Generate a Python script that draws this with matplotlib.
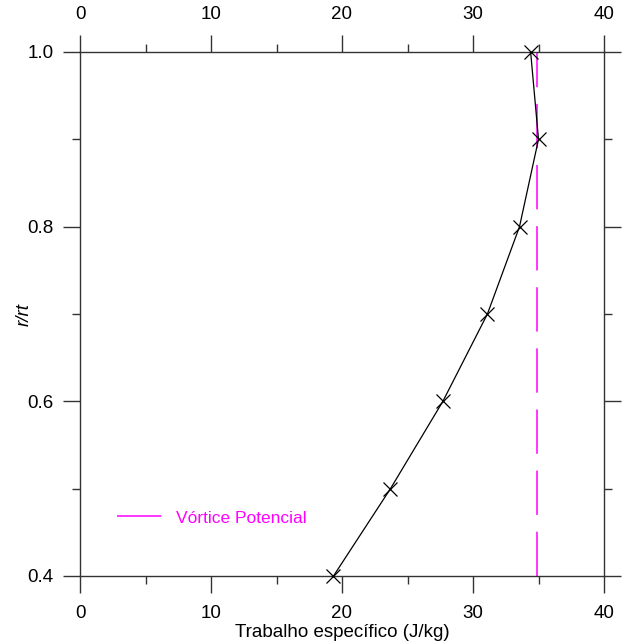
import numpy as np
import matplotlib
matplotlib.use("Agg")
import matplotlib.pyplot as plt
from matplotlib.ticker import MultipleLocator


# dados: trabalho específico por posição radial
r_rt = [0.4, 0.5, 0.6, 0.7, 0.8, 0.9, 1.0]
trabalho = [19.35, 23.7, 27.7, 31.1, 33.55, 35.0, 34.4]

# vórtice potencial: trabalho constante ao longo do raio
r_vortice = [0.4, 1.0]
trabalho_vortice = [34.85, 34.85]

plt.rcParams["font.family"] = ["Liberation Sans", "DejaVu Sans"]
plt.rcParams["font.size"] = 13.5

fig = plt.figure(figsize=(6.24, 6.44), dpi=100)
ax = fig.add_axes([80 / 624, 68 / 644, 524 / 624, 524 / 644])

ax.plot(trabalho_vortice, r_vortice, color="#ff00ff", lw=1.1,
        dashes=(29, 11), label="Vórtice Potencial")
ax.plot(trabalho, r_rt, color="black", lw=0.9, marker="x",
        markersize=9.5, markeredgewidth=0.9, clip_on=False, zorder=3)

ax.set_xlim(0, 40)
ax.set_ylim(0.4, 1.0)

ax.xaxis.set_major_locator(MultipleLocator(10))
ax.xaxis.set_minor_locator(MultipleLocator(5))
ax.yaxis.set_major_locator(MultipleLocator(0.2))
ax.yaxis.set_minor_locator(MultipleLocator(0.1))

ax.tick_params(which="both", direction="out", top=True, right=True,
               labeltop=True, labelright=False, color="#333333")
ax.tick_params(which="major", length=12.2, width=1.0, pad=7)
ax.tick_params(axis="x", which="major", pad=8.5)
ax.tick_params(which="minor", length=5.8, width=1.0)

for s in ax.spines.values():
    s.set_linewidth(1.0)
    s.set_color("#333333")

ax.set_xlabel("Trabalho específico (J/kg)", labelpad=1.5)
ax.set_ylabel("r/rt", style="italic")
ax.yaxis.set_label_coords(-0.09, 0.5)

leg = ax.legend(loc="center left", bbox_to_anchor=(0.0706, 0.1107),
                frameon=False, borderpad=0, borderaxespad=0,
                handlelength=2.6, handletextpad=0.8, fontsize=12.5,
                labelcolor="#ff00ff")

fig.savefig("out.png", dpi=100)
